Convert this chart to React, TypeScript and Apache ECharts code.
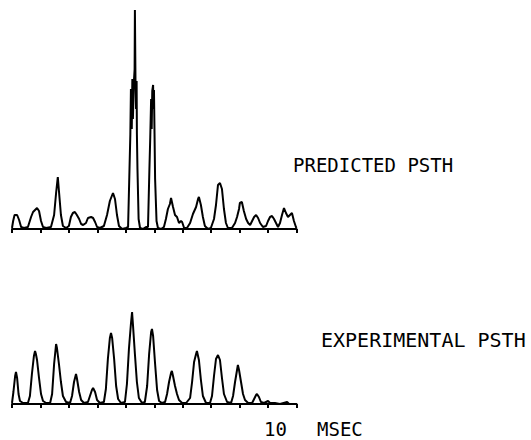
import React, { useEffect, useRef } from "react";
import * as echarts from "echarts";

// Time axis (ms) and tick values
const xMin = 0;
const xMax = 10;
const xInterval = 1;

// Predicted PSTH (time in ms, response in arbitrary units)
const predTimes = [
  0, 0.04, 0.09, 0.18, 0.25, 0.32, 0.42, 0.56, 0.67, 0.74, 0.81, 0.88, 0.95, 1.02, 1.09, 1.2,
  1.37, 1.48, 1.55, 1.61, 1.65, 1.72, 1.79, 1.9, 2.0, 2.07, 2.14, 2.21, 2.28, 2.36, 2.43, 2.5,
  2.6, 2.67, 2.78, 2.85, 2.92, 2.99, 3.09, 3.23, 3.34, 3.44, 3.55, 3.62, 3.69, 3.76, 3.87,
  4.01, 4.08, 4.13, 4.16, 4.18, 4.21, 4.23, 4.25, 4.28, 4.31, 4.32, 4.34, 4.36, 4.38, 4.39, 4.41, 4.45, 4.5, 4.6,
  4.71, 4.78, 4.83, 4.86, 4.89, 4.91, 4.93, 4.96, 4.97, 4.99, 5.01, 5.03, 5.08, 5.13, 5.24,
  5.34, 5.41, 5.48, 5.55, 5.59, 5.66, 5.73, 5.8, 5.87, 5.94, 5.98, 6.05,
  6.15, 6.26, 6.36, 6.47, 6.54, 6.57, 6.64, 6.71, 6.78, 6.89,
  6.99, 7.1, 7.17, 7.24, 7.31, 7.38, 7.45, 7.52, 7.59,
  7.73, 7.84, 7.91, 7.98, 8.01, 8.08, 8.15, 8.23, 8.3, 8.37, 8.44, 8.51, 8.58, 8.65, 8.72, 8.82,
  8.93, 9.0, 9.07, 9.14, 9.21, 9.28, 9.35, 9.42, 9.49, 9.56, 9.63, 9.7, 9.77, 9.84, 9.91, 9.98, 10,
];
const predValues = [
  1, 8, 14, 14, 9, 2, 1, 2, 12, 17, 19, 21, 18, 8, 2, 1,
  2, 14, 36, 52, 38, 14, 3, 1, 3, 12, 16, 17, 14, 10, 5, 4,
  6, 11, 12, 11, 7, 2, 1, 3, 14, 28, 36, 30, 14, 3, 0,
  1, 2, 60, 95, 140, 100, 150, 110, 145, 160, 219, 150, 120, 148, 95, 60, 10, 1, 0,
  2, 2, 60, 92, 130, 100, 138, 144, 120, 139, 95, 50, 8, 1, 0,
  2, 10, 20, 25, 31, 22, 14, 12, 6, 8, 7, 1,
  1, 6, 15, 22, 30, 32, 24, 12, 3, 0,
  1, 10, 24, 44, 46, 40, 20, 6, 1,
  1, 6, 12, 20, 26, 27, 18, 10, 6, 4, 8, 12, 14, 11, 6, 2,
  3, 8, 12, 13, 10, 6, 2, 6, 14, 21, 16, 12, 14, 16, 8, 2, 1,
];

// Experimental PSTH
const expTimes = [
  0, 0.05, 0.11, 0.14, 0.18, 0.23, 0.28, 0.39,
  0.56, 0.63, 0.7, 0.77, 0.81, 0.84, 0.88, 0.95, 1.02, 1.09, 1.2,
  1.34, 1.41, 1.48, 1.55, 1.58, 1.65, 1.72, 1.79, 1.9,
  2.04, 2.11, 2.18, 2.25, 2.28, 2.36, 2.43, 2.53,
  2.67, 2.74, 2.81, 2.85, 2.92, 2.99, 3.09,
  3.23, 3.3, 3.37, 3.44, 3.48, 3.52, 3.59, 3.66, 3.73, 3.83,
  3.97, 4.04, 4.11, 4.18, 4.22, 4.25, 4.32, 4.39, 4.46, 4.57,
  4.67, 4.75, 4.82, 4.89, 4.92, 4.96, 5.03, 5.1, 5.17, 5.27,
  5.38, 5.45, 5.52, 5.59, 5.62, 5.66, 5.73, 5.8, 5.87, 5.98,
  6.12, 6.26, 6.33, 6.4, 6.47, 6.5, 6.57, 6.64, 6.71, 6.82,
  6.96, 7.03, 7.1, 7.17, 7.24, 7.31, 7.38, 7.45, 7.56,
  7.7, 7.77, 7.84, 7.91, 7.94, 7.98, 8.05, 8.12, 8.19, 8.3,
  8.44, 8.51, 8.58, 8.61, 8.68, 8.75, 8.86,
  9.0, 9.07, 9.24, 9.42, 9.67, 9.74, 10,
];
const expValues = [
  1, 12, 28, 32, 26, 10, 3, 1,
  1, 8, 30, 48, 53, 50, 44, 26, 10, 3, 1,
  1, 10, 40, 60, 56, 40, 22, 8, 2,
  1, 8, 22, 30, 26, 12, 4, 1,
  2, 8, 14, 16, 12, 4, 1,
  2, 15, 45, 66, 71, 66, 45, 18, 5, 1,
  2, 20, 55, 80, 92, 80, 50, 22, 6, 1,
  2, 18, 50, 72, 75, 68, 40, 14, 3, 1,
  2, 10, 22, 31, 33, 28, 18, 10, 4, 1,
  1, 6, 22, 42, 50, 53, 44, 24, 8, 1,
  1, 8, 28, 45, 49, 44, 26, 10, 2,
  1, 8, 22, 34, 39, 34, 22, 10, 4, 1,
  1, 5, 9, 10, 7, 2, 1,
  3, 1, 1, 0, 2, 0, 0,
];

const predictedLabel = "PREDICTED PSTH";
const experimentalLabel = "EXPERIMENTAL PSTH";
const scaleValueLabel = "10";
const scaleUnitLabel = "MSEC";

const zip = (xs: number[], ys: number[]) => xs.map((x, i) => [x, ys[i]]);

export default function App() {
  const ref = useRef<HTMLDivElement>(null);
  useEffect(() => {
    if (!ref.current) return;
    const chart = echarts.init(ref.current, undefined, { renderer: "svg" });
    const xAxisBase = {
      type: "value" as const,
      min: xMin,
      max: xMax,
      interval: xInterval,
      axisLine: { show: true, onZero: false, lineStyle: { color: "#000", width: 2 } },
      axisTick: { show: true, length: 4, lineStyle: { color: "#000", width: 2 } },
      axisLabel: { show: false },
      splitLine: { show: false },
    };
    const yAxisBase = {
      type: "value" as const,
      show: false,
      min: 0,
      splitLine: { show: false },
    };
    const lineStyle = { color: "#000", width: 2 };
    const font = "DejaVu Sans Mono";
    chart.setOption({
      animation: false,
      backgroundColor: "#fff",
      grid: [
        { left: 12, right: 234.5, top: 9, height: 220 },
        { left: 12, right: 234.5, top: 304, height: 100 },
      ],
      xAxis: [
        { ...xAxisBase, gridIndex: 0 },
        { ...xAxisBase, gridIndex: 1 },
      ],
      yAxis: [
        { ...yAxisBase, gridIndex: 0, max: 220 },
        { ...yAxisBase, gridIndex: 1, max: 100 },
      ],
      series: [
        {
          type: "line",
          xAxisIndex: 0,
          yAxisIndex: 0,
          data: zip(predTimes, predValues),
          symbol: "none",
          lineStyle,
        },
        {
          type: "line",
          xAxisIndex: 1,
          yAxisIndex: 1,
          data: zip(expTimes, expValues),
          symbol: "none",
          lineStyle,
        },
      ],
      graphic: [
        {
          type: "text",
          x: 293,
          y: 165,
          style: { text: predictedLabel, fill: "#000", fontFamily: font, fontSize: 19, verticalAlign: "middle", align: "left" },
        },
        {
          type: "text",
          x: 321,
          y: 340,
          style: { text: experimentalLabel, fill: "#000", fontFamily: font, fontSize: 20, verticalAlign: "middle", align: "left" },
        },
        {
          type: "text",
          x: 264,
          y: 429,
          style: { text: scaleValueLabel, fill: "#000", fontFamily: font, fontSize: 19, verticalAlign: "middle", align: "left" },
        },
        {
          type: "text",
          x: 317,
          y: 429,
          style: { text: scaleUnitLabel, fill: "#000", fontFamily: font, fontSize: 19, verticalAlign: "middle", align: "left" },
        },
      ],
    });
    return () => chart.dispose();
  }, []);
  return <div ref={ref} style={{ width: 531, height: 440, position: "absolute", left: 0, top: 0 }} />;
}
